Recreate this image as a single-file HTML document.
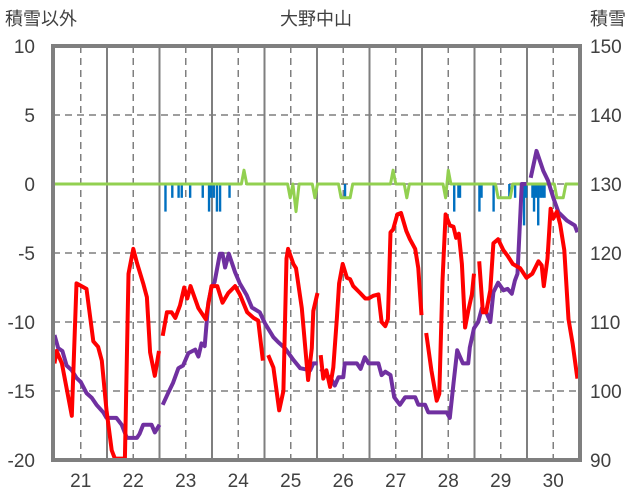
<!DOCTYPE html>
<html><head><meta charset="utf-8"><style>
body{margin:0;background:#fff;}
svg{display:block;font-family:"Liberation Sans","Noto Sans CJK JP",sans-serif;}
</style></head><body>
<svg id="c" width="636" height="501">
<text x="5" y="25" font-size="18" fill="#404040">積雪以外</text>
<text x="316" y="25" font-size="18" fill="#404040" text-anchor="middle">大野中山</text>
<text x="590" y="25" font-size="18" fill="#404040">積雪</text>
<g id="grid"></g><g id="marks"></g><g id="axes"></g>
</svg>
<script>
const days=["21","22","23","24","25","26","27","28","29","30"];
const leftTicks=[10,5,0,-5,-10,-15,-20];
const rightTicks=[150,140,130,120,110,100,90];
const redT=[0,0.04,0.14,0.33,0.42,0.61,0.74,0.83,0.9,0.99,1.09,1.15,1.34,1.41,1.5,1.57,1.69,1.76,1.82,1.91,1.99,null,2.06,2.14,2.23,2.3,2.39,2.47,2.53,2.59,2.74,2.88,2.99,3.1,3.2,3.31,3.44,3.53,3.67,3.79,3.88,3.97,null,4.07,4.17,4.28,4.36,4.42,4.45,4.55,4.6,4.71,4.83,4.9,4.93,5.01,null,5.07,5.12,5.18,5.25,5.31,5.38,5.42,5.49,5.57,5.63,5.69,5.82,5.92,5.98,6.07,6.17,6.23,6.3,6.35,6.4,6.45,6.53,6.6,6.7,6.77,6.87,6.93,6.99,null,7.08,7.18,7.28,7.33,7.39,7.45,7.53,7.6,7.65,7.7,7.76,7.82,7.88,7.95,7.99,null,8.09,8.16,8.22,8.3,8.36,8.45,8.55,8.63,8.73,8.87,8.99,9.1,9.22,9.28,9.32,9.39,9.45,9.5,9.57,9.63,9.71,9.79,9.87,9.96];
const redV=[-13,-12.1,-13,-16.8,-7.2,-7.6,-11.4,-11.8,-12.8,-16.4,-19.3,-19.9,-19.9,-6.5,-4.7,-5.7,-7.2,-8.2,-12.2,-13.9,-12.1,null,-11,-9.3,-9.3,-9.7,-8.8,-7.5,-8.3,-7.4,-9,-9.8,-7.4,-7.4,-8.6,-7.9,-7.4,-8,-9.3,-9.7,-9.9,-12.8,null,-12.4,-13.3,-16.4,-15,-5.4,-4.7,-5.8,-6.1,-9,-14.2,-11.9,-9.2,-7.9,null,-12.4,-14.1,-13.5,-14.7,-13.3,-9.7,-7.2,-5.8,-6.8,-6.9,-7.4,-7.9,-8.3,-8.3,-8.1,-8,-10,-10.3,-9.8,-3.5,-3.3,-2.2,-2.1,-3.4,-4,-4.7,-6.1,-9.5,null,-10.8,-13.5,-15.7,-15.2,-7,-2.2,-3,-3.1,-3.9,-3.6,-5.8,-10.4,-9.2,-8,-6.5,null,-5.6,-9.3,-9.3,-7.7,-4.3,-4,-4.8,-5.2,-5.8,-6.1,-6.8,-6.5,-5.6,-5.9,-7.4,-5.4,-1.8,-2.5,-2,-2.9,-4.8,-9.8,-11.6,-14.1];
const snowT=[0,0.07,0.15,0.23,0.33,0.42,0.5,0.61,0.71,0.8,0.93,0.99,1.18,1.28,1.38,1.57,1.62,1.69,1.85,1.91,2,null,2.06,2.17,2.26,2.36,2.45,2.55,2.68,2.74,2.8,2.86,2.93,2.99,3.05,3.15,3.2,3.25,3.32,3.44,3.53,3.66,3.76,3.91,4.01,4.17,4.26,4.39,4.55,4.68,4.87,4.93,5.01,null,5.07,5.18,5.26,5.34,5.41,5.5,5.53,5.76,5.83,5.91,5.98,6.04,6.17,6.23,6.3,6.4,6.47,6.58,6.68,6.87,6.93,7.06,7.12,7.47,7.53,7.6,7.67,7.78,7.88,7.91,7.99,8.07,8.14,8.22,8.3,8.36,8.45,8.55,8.63,8.71,8.77,8.82,8.9,8.99,null,9.07,9.18,9.31,9.4,9.5,9.6,9.76,9.91,9.96];
const snowV=[108.1,106.2,105.8,103.7,103,101.9,101.3,99.7,99,98,96.9,96.1,96.1,95.1,93.2,93.2,93.8,95.1,95.1,94,95.1,null,98,99.8,101.2,103.3,103.7,105.5,106,105,106.9,106.5,112.8,115,115.8,119.9,119.9,117.9,119.9,117.2,115.6,113.9,112.1,111.4,109.8,107.8,107.1,106.2,104.5,103.3,103,104,104,null,103.2,102.3,101.9,100.8,102,102,104,104,103.2,104.9,104,104,104,102.3,102.8,102.3,99.1,98,99.1,99.1,98,98,96.9,96.9,96.1,101.1,105.9,104,104,106.3,109.1,110,112,111.5,110,114.3,115.7,114.6,114.8,114.1,116,117,130,130,null,130.9,134.8,131.9,130.5,128,125.9,124.7,124,123];
const barT=[2.11,2.24,2.36,2.42,2.58,2.82,2.94,2.98,3.03,3.09,3.15,3.33,5.53,7.61,7.69,7.72,8.09,8.13,8.36,8.66,8.77,8.9,8.94,8.98,9.1,9.13,9.17,9.21,9.25,9.29,9.33];
const barV=[-2,-1,-1,-1,-1,-1,-2,-1,-1,-2,-2,-1,-1,-2,-1,-1,-2,-1,-2,-1,-1,-1,-3,-1,-1,-2,-1,-3,-1,-1,-1];
const greenT=[0,3.56,3.61,3.66,4.44,4.49,4.54,4.6,4.66,4.91,4.96,5.01,5.41,5.46,5.63,5.68,6.4,6.45,6.5,6.66,6.71,6.76,7.4,7.45,7.5,7.55,8.4,8.45,8.68,8.73,9.52,9.57,9.69,9.74,9.98];
const greenV=[0,0,1,0,0,-1,0,-2,0,0,-1,0,0,-1,-1,0,0,1,0,0,-1,0,0,-1,1,0,0,-1,-1,0,0,-1,-1,0,0];

const NS="http://www.w3.org/2000/svg";
const L=53,R=580,T=46,B=460,X0=54.5,DW=52.5;
const x=t=>X0+t*DW;
const y=v=>T+(10-v)*(B-T)/30;
const yr=v=>B-(v-90)*(B-T)/60;
function mk(tag,attrs,parent){const e=document.createElementNS(NS,tag);for(const k in attrs)e.setAttribute(k,attrs[k]);document.getElementById(parent).appendChild(e);return e;}
leftTicks.forEach(v=>{if(v===10||v===-20)return;
 const g=mk('line',{x1:L,x2:R,y1:y(v),y2:y(v),stroke:'#7f7f7f','stroke-width':1.5,'stroke-dasharray':'7,5'},'grid');
 
 });
days.forEach((d,i)=>{
 const m=mk('line',{x1:x(i+0.5),x2:x(i+0.5),y1:T,y2:B,stroke:'#7f7f7f','stroke-width':1.5,'stroke-dasharray':'7,5'},'grid');
 
 
 if(i>0){const s=mk('line',{x1:x(i),x2:x(i),y1:T,y2:B,stroke:'#7f7f7f','stroke-width':2},'grid');
 
 }
 const t=mk('text',{x:x(i+0.5),y:487,'font-size':19,fill:'#404040','text-anchor':'middle'},'axes');t.textContent=d;
 
 
});
leftTicks.forEach(v=>{const t=mk('text',{x:35,y:y(v)+7,'font-size':19,fill:'#404040','text-anchor':'end'},'axes');t.textContent=v;
 
 });
rightTicks.forEach(v=>{const t=mk('text',{x:590,y:yr(v)+7,'font-size':19,fill:'#404040'},'axes');t.textContent=v;
 
 });
const fr=mk('rect',{x:L,y:T,width:R-L,height:B-T,fill:'none',stroke:'#7f7f7f','stroke-width':4},'axes');


barT.forEach((t,i)=>{const r=mk('rect',{x:x(t)-1,y:y(0),width:2.4,height:y(barV[i])-y(0),fill:'#0070c0'},'marks');
 
 });
function path(ts,vs,fy){let d='',pen=false;ts.forEach((t,i)=>{if(t===null){pen=false;return;}d+=(pen?'L':'M')+x(t).toFixed(1)+','+fy(vs[i]).toFixed(1);pen=true;});return d;}
const g=mk('path',{d:path(greenT,greenV,y),fill:'none',stroke:'#92d050','stroke-width':3,'stroke-linejoin':'round'},'marks');


const p=mk('path',{d:path(snowT,snowV,yr),fill:'none',stroke:'#7030a0','stroke-width':4,'stroke-linejoin':'round'},'marks');


const r=mk('path',{d:path(redT,redV,y),fill:'none',stroke:'#ff0000','stroke-width':4,'stroke-linejoin':'round'},'marks');


</script>
</body></html>
